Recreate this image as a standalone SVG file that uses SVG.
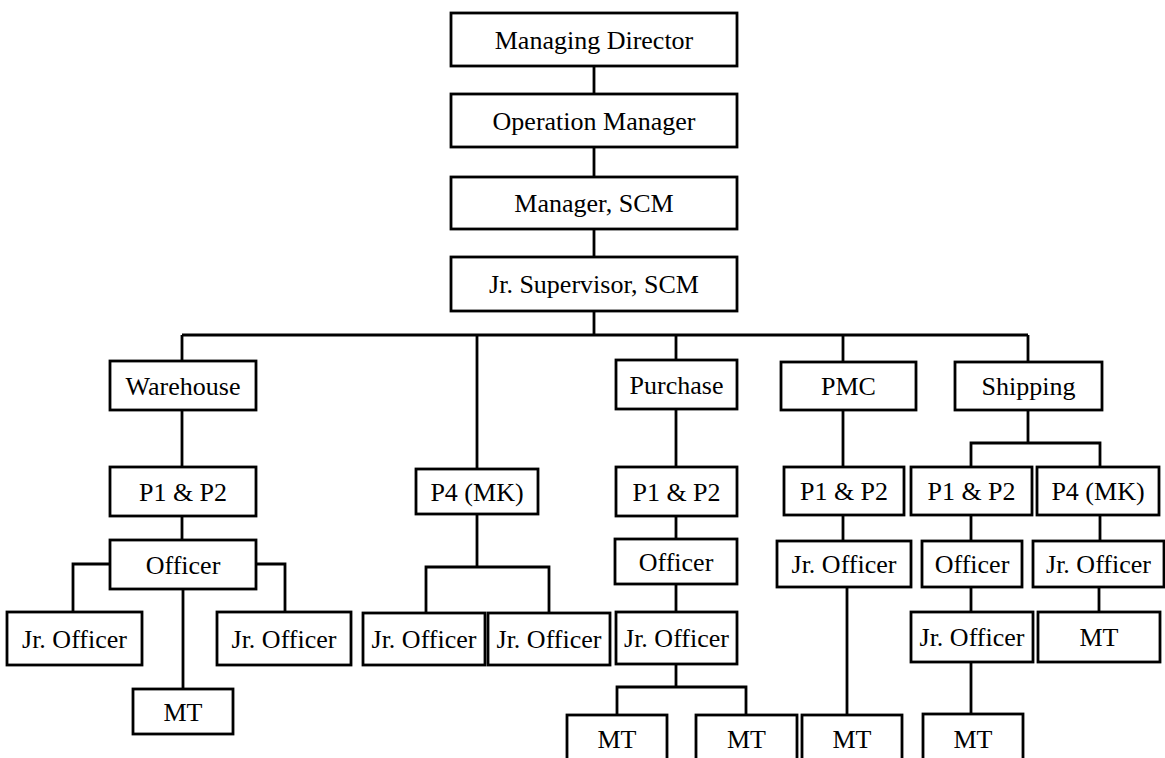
<svg xmlns="http://www.w3.org/2000/svg" width="1165" height="758" viewBox="0 0 1165 758">
<style>
.b{fill:#fff;stroke:#000;stroke-width:2.8}
.t{font-family:"Liberation Serif","Times New Roman",serif;font-size:26px;fill:#000;text-anchor:middle}
.c{fill:none;stroke:#000;stroke-width:2.8}
</style>
<rect width="1165" height="758" fill="#fff"/>
<g id="connectors" class="c">
<path d="M594 66V94M594 147V177M594 229V257M594 311V335"/>
<path d="M182 335H1028M182 335V361M477 335V469M676 335V360M843 335V362M1028 335V362"/>
<path d="M182 410V467M182 516V540M110 564H73V612M256 564H285V612M183 589V689"/>
<path d="M477 514V567M426 613V567H549V613"/>
<path d="M676 409V467M676 516V539M676 584V612M676 664V687M617 715V687H746V715"/>
<path d="M843 410V467M843 515V541M847 587V715"/>
<path d="M1028 410V443M971 467V443H1100V467M971 515V541M1100 515V541M971 587V612M1099 587V612M971 662V715"/>
</g>
<g id="n-md"><rect class="b" x="451" y="13" width="286" height="53"/><text class="t" x="594" y="49">Managing Director</text></g>
<g id="n-om"><rect class="b" x="451" y="94" width="286" height="53"/><text class="t" x="594" y="130">Operation Manager</text></g>
<g id="n-mscm"><rect class="b" x="451" y="177" width="286" height="52"/><text class="t" x="594" y="212">Manager, SCM</text></g>
<g id="n-js"><rect class="b" x="451" y="257" width="286" height="54"/><text class="t" x="594" y="293">Jr. Supervisor, SCM</text></g>

<g id="n-wh"><rect class="b" x="110" y="361" width="146" height="49"/><text class="t" x="183" y="395">Warehouse</text></g>
<g id="n-wh-p12"><rect class="b" x="110" y="467" width="146" height="49"/><text class="t" x="183" y="501">P1 &amp; P2</text></g>
<g id="n-wh-off"><rect class="b" x="110" y="540" width="146" height="49"/><text class="t" x="183" y="574">Officer</text></g>
<g id="n-wh-jo1"><rect class="b" x="7" y="612" width="135" height="53"/><text class="t" x="74.5" y="648">Jr. Officer</text></g>
<g id="n-wh-jo2"><rect class="b" x="217" y="612" width="134" height="53"/><text class="t" x="284" y="648">Jr. Officer</text></g>
<g id="n-wh-mt"><rect class="b" x="133" y="689" width="100" height="45"/><text class="t" x="183" y="721">MT</text></g>

<g id="n-p4"><rect class="b" x="416" y="469" width="122" height="45"/><text class="t" x="477" y="501">P4 (MK)</text></g>
<g id="n-p4-jo1"><rect class="b" x="363" y="613" width="122" height="52"/><text class="t" x="424" y="648">Jr. Officer</text></g>
<g id="n-p4-jo2"><rect class="b" x="488" y="613" width="122" height="52"/><text class="t" x="549" y="648">Jr. Officer</text></g>

<g id="n-pu"><rect class="b" x="616" y="360" width="121" height="49"/><text class="t" x="676.5" y="394">Purchase</text></g>
<g id="n-pu-p12"><rect class="b" x="616" y="467" width="121" height="49"/><text class="t" x="676.5" y="501">P1 &amp; P2</text></g>
<g id="n-pu-off"><rect class="b" x="615" y="539" width="122" height="45"/><text class="t" x="676" y="571">Officer</text></g>
<g id="n-pu-jo"><rect class="b" x="616" y="612" width="121" height="52"/><text class="t" x="676.5" y="647">Jr. Officer</text></g>
<g id="n-pu-mt1"><rect class="b" x="567" y="715" width="100" height="60"/><text class="t" x="617" y="748">MT</text></g>
<g id="n-pu-mt2"><rect class="b" x="696" y="715" width="101" height="60"/><text class="t" x="746.5" y="748">MT</text></g>

<g id="n-pmc"><rect class="b" x="781" y="362" width="135" height="48"/><text class="t" x="848.5" y="395">PMC</text></g>
<g id="n-pmc-p12"><rect class="b" x="784" y="467" width="120" height="48"/><text class="t" x="844" y="500">P1 &amp; P2</text></g>
<g id="n-pmc-jo"><rect class="b" x="777" y="541" width="134" height="46"/><text class="t" x="844" y="573">Jr. Officer</text></g>
<g id="n-pmc-mt"><rect class="b" x="802" y="715" width="100" height="60"/><text class="t" x="852" y="748">MT</text></g>

<g id="n-sh"><rect class="b" x="955" y="362" width="147" height="48"/><text class="t" x="1028.5" y="395">Shipping</text></g>
<g id="n-sh-p12"><rect class="b" x="911" y="467" width="121" height="48"/><text class="t" x="971.5" y="500">P1 &amp; P2</text></g>
<g id="n-sh-p4"><rect class="b" x="1037" y="467" width="122" height="48"/><text class="t" x="1098" y="500">P4 (MK)</text></g>
<g id="n-sh-off"><rect class="b" x="922" y="541" width="100" height="46"/><text class="t" x="972" y="573">Officer</text></g>
<g id="n-sh-jo2"><rect class="b" x="1033" y="541" width="131" height="46"/><text class="t" x="1098.5" y="573">Jr. Officer</text></g>
<g id="n-sh-jo"><rect class="b" x="911" y="612" width="122" height="50"/><text class="t" x="972" y="646">Jr. Officer</text></g>
<g id="n-sh-mt2"><rect class="b" x="1038" y="612" width="122" height="50"/><text class="t" x="1099" y="646">MT</text></g>
<g id="n-sh-mt"><rect class="b" x="923" y="714" width="100" height="60"/><text class="t" x="973" y="748">MT</text></g>
</svg>
